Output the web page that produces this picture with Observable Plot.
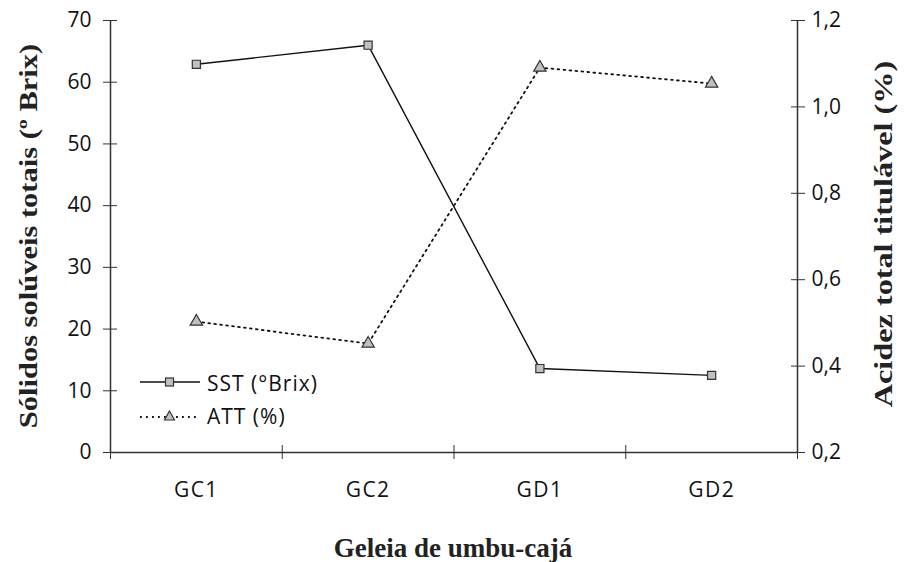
<!DOCTYPE html>
<html><head><meta charset="utf-8">
<script src="https://cdn.jsdelivr.net/npm/d3@7"></script>
<script src="https://cdn.jsdelivr.net/npm/@observablehq/plot@0.6"></script>
<style>body{margin:0;background:#fff}</style>
</head><body><div id="chart"></div>
<script>
const categories = ["GC1", "GC2", "GD1", "GD2"];
const sst = [62.9, 66.0, 13.6, 12.5];
const att = [0.503, 0.452, 1.091, 1.054];
const leftTicks = [0, 10, 20, 30, 40, 50, 60, 70];
const rightTicks = [0.2, 0.4, 0.6, 0.8, 1.0, 1.2];

const toLeft = v => (v - 0.2) * 70;  // map right axis (0.2–1.2) onto left (0–70)
const idx = categories.map((c, i) => i);
const sstData = categories.map((c, i) => ({i, v: sst[i]}));
const attData = categories.map((c, i) => ({i, v: toLeft(att[i])}));
const bounds = [-0.5, 0.5, 1.5, 2.5, 3.5];
const axisColor = "#333";
const tickFont = "Open Sans, sans-serif";

const chart = Plot.plot({
  width: 905, height: 562,
  marginLeft: 110, marginRight: 108, marginTop: 20, marginBottom: 110,
  style: {fontFamily: tickFont, fontSize: "21px", color: "#111", background: "#fff"},
  x: {type: "linear", domain: [-0.5, 3.5]},
  y: {domain: [0, 70]},
  marks: [
    Plot.ruleY([0], {stroke: axisColor, strokeWidth: 1.5}),
    Plot.ruleX([-0.5], {stroke: axisColor, strokeWidth: 1.5}),
    Plot.ruleX([3.5], {stroke: axisColor, strokeWidth: 1.5}),
    // left axis
    Plot.axisY({ticks: leftTicks, tickSize: 14, dx: 7, text: null, label: null, stroke: axisColor}),
    Plot.axisY({ticks: leftTicks, tickSize: 0, tickPadding: 19, tickFormat: d => String(d), label: null, fontSize: 21}),
    // right axis
    Plot.axisY({anchor: "right", ticks: rightTicks.map(toLeft), tickSize: 14, dx: -7, text: null, label: null, stroke: axisColor}),
    Plot.axisY({anchor: "right", ticks: rightTicks.map(toLeft), tickSize: 0, tickPadding: 14, label: null,
      tickFormat: d => (d / 70 + 0.2).toFixed(1).replace(".", ","), fontSize: 21}),
    // x axis
    Plot.axisX({ticks: bounds, tickSize: 14, dy: -7, text: null, label: null, stroke: axisColor}),
    Plot.axisX({ticks: idx, tickSize: 0, tickPadding: 30, label: null, tickFormat: d => categories[d], fontSize: 21}),
    // series
    Plot.line(sstData, {x: "i", y: "v", stroke: "#111", strokeWidth: 1.4}),
    Plot.line(attData, {x: "i", y: "v", stroke: "#111", strokeWidth: 1.8, strokeDasharray: "1.8,4.2"}),
    Plot.dot(sstData, {x: "i", y: "v", symbol: "square", r: 4.6, fill: "#c0c0c0", stroke: "#333", strokeWidth: 1.2}),
    Plot.dot(attData, {x: "i", y: "v", symbol: "triangle", r: 4.6, fill: "#c0c0c0", stroke: "#333", strokeWidth: 1.2})
  ]
});

const svg = d3.select(chart);
svg.selectAll("g[aria-label='x-axis tick label'] text").attr("letter-spacing", "1.5px");
const serif = "Liberation Serif, Times New Roman, serif";
svg.append("text").attr("transform", "translate(37,236) rotate(-90) scale(1.22,1)")
  .attr("text-anchor", "middle").attr("font-family", serif).attr("font-weight", "bold")
  .attr("font-size", 25).attr("fill", "#222").text("Sólidos solúveis totais (º Brix)");
svg.append("text").attr("transform", "translate(892,234) rotate(-90) scale(1.29,1)")
  .attr("text-anchor", "middle").attr("font-family", serif).attr("font-weight", "bold")
  .attr("font-size", 25).attr("fill", "#222").text("Acidez total titulável (%)");
svg.append("text").attr("x", 453).attr("y", 557)
  .attr("text-anchor", "middle").attr("font-family", serif).attr("font-weight", "bold")
  .attr("font-size", 27).attr("fill", "#222").text("Geleia de umbu-cajá");

// legend
const lg = svg.append("g").attr("text-anchor", "start");
lg.append("line").attr("x1", 140).attr("x2", 200).attr("y1", 382).attr("y2", 382)
  .attr("stroke", "#111").attr("stroke-width", 1.4);
lg.append("rect").attr("x", 165.5).attr("y", 378).attr("width", 8).attr("height", 8)
  .attr("fill", "#c0c0c0").attr("stroke", "#333").attr("stroke-width", 1.2);
lg.append("text").attr("x", 207).attr("y", 391).attr("font-family", tickFont).attr("font-size", 21)
  .attr("letter-spacing", "1px").attr("fill", "#111").text("SST (°Brix)");
lg.append("line").attr("x1", 140).attr("x2", 200).attr("y1", 417).attr("y2", 417)
  .attr("stroke", "#111").attr("stroke-width", 1.8).attr("stroke-dasharray", "1.8,4.2");
lg.append("path").attr("d", "M169.5,411 L174.5,420 L164.5,420 Z")
  .attr("fill", "#c0c0c0").attr("stroke", "#333").attr("stroke-width", 1.2);
lg.append("text").attr("x", 207).attr("y", 424).attr("font-family", tickFont).attr("font-size", 21)
  .attr("letter-spacing", "1px").attr("fill", "#111").text("ATT (%)");

document.getElementById("chart").appendChild(chart);
</script>
</body></html>
